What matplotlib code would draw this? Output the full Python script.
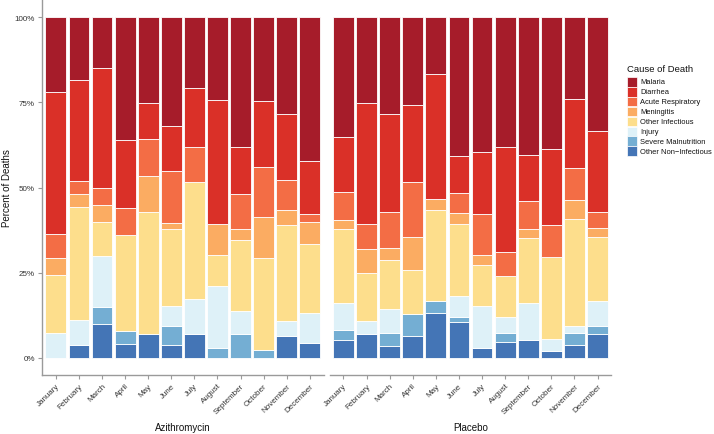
import matplotlib
matplotlib.use("Agg")
import matplotlib.pyplot as plt
from matplotlib.patches import Rectangle
import numpy as np

plt.rcParams['font.family'] = ['Liberation Sans', 'DejaVu Sans']

months = ["January", "February", "March", "April", "May", "June", "July",
          "August", "September", "October", "November", "December"]
groups = ["Azithromycin", "Placebo"]
causes = ["Malaria", "Diarrhea", "Acute Respiratory", "Meningitis",
          "Other Infectious", "Injury", "Severe Malnutrition", "Other Non\u2212Infectious"]
colors = ["#A61C2A", "#DA3028", "#F36D45", "#FBAC62", "#FDDE8C",
          "#DEF1F8", "#74AED3", "#4475B6"]

# percent of deaths per month (Azithromycin)
azi_other_noninf = [0, 3.7, 10, 4, 7.1, 3.8, 6.9, 0, 0, 0, 6.5, 4.4]
azi_malnutrition = [0, 0, 5, 4, 0, 5.7, 0, 3.0, 6.9, 2.4, 0, 0]
azi_injury       = [7.2, 7.4, 15, 0, 0, 5.7, 10.3, 18.2, 6.9, 0, 4.3, 8.9]
azi_other_inf    = [17.1, 33.3, 10, 28, 35.7, 22.6, 34.5, 9.1, 20.7, 26.8, 28.3, 20.0]
azi_meningitis   = [4.9, 3.7, 5, 0, 10.7, 1.9, 0, 9.1, 3.4, 12.2, 4.3, 6.7]
azi_acute_resp   = [7.3, 3.7, 5, 8, 10.7, 15.1, 10.3, 0, 10.3, 14.6, 8.7, 2.2]
azi_diarrhea     = [41.4, 29.6, 35, 20, 10.7, 13.2, 17.2, 36.4, 13.8, 19.5, 19.6, 15.6]
azi_malaria      = [22.1, 18.6, 15, 36, 25.1, 32.0, 20.8, 24.2, 38.0, 24.5, 28.3, 42.2]

# percent of deaths per month (Placebo)
pla_other_noninf = [5.4, 7.1, 3.6, 6.5, 13.3, 10.6, 3.0, 4.8, 5.4, 1.9, 3.7, 7.1]
pla_malnutrition = [2.7, 0, 3.6, 6.5, 3.3, 1.5, 0, 2.4, 0, 0, 3.7, 2.4]
pla_injury       = [8.1, 3.6, 7.1, 0, 0, 6.1, 12.1, 4.8, 10.8, 3.7, 1.9, 7.1]
pla_other_inf    = [21.6, 14.3, 14.3, 12.9, 26.7, 21.2, 12.1, 11.9, 18.9, 24.1, 31.5, 19.0]
pla_meningitis   = [2.7, 7.1, 3.6, 9.7, 3.3, 3.0, 3.0, 0, 2.7, 0, 5.6, 2.4]
pla_acute_resp   = [8.1, 7.1, 10.7, 16.1, 0, 6.1, 12.1, 7.1, 8.1, 9.3, 9.3, 4.8]
pla_diarrhea     = [16.2, 35.7, 28.6, 22.6, 36.7, 10.6, 18.2, 31.0, 13.5, 22.2, 20.4, 23.8]
pla_malaria      = [35.2, 25.1, 28.5, 25.7, 16.7, 40.9, 39.5, 38.0, 40.6, 38.8, 23.9, 33.4]

data = {
    "Azithromycin": [azi_other_noninf, azi_malnutrition, azi_injury, azi_other_inf,
                     azi_meningitis, azi_acute_resp, azi_diarrhea, azi_malaria],
    "Placebo": [pla_other_noninf, pla_malnutrition, pla_injury, pla_other_inf,
                pla_meningitis, pla_acute_resp, pla_diarrhea, pla_malaria],
}
stack_colors = colors[::-1]

W, H = 714, 435
fig = plt.figure(figsize=(W / 100, H / 100), dpi=100)

axes_px = [(42, 281.7), (329.6, 281.8)]
bottom_px, top_px = 376, 1
spine_col = "#9a9a9a"
txt_col = "#333333"

x = np.arange(len(months))
for gi, g in enumerate(groups):
    lx, wx = axes_px[gi]
    ax = fig.add_axes([lx / W, (H - bottom_px) / H, wx / W, (bottom_px - top_px) / H])
    bottoms = np.zeros(len(months))
    for vals, c in zip(data[g], stack_colors):
        v = np.array(vals, dtype=float)
        ax.bar(x, v, width=0.9, bottom=bottoms, color=c, edgecolor="white", linewidth=0.6)
        bottoms += v
    ax.set_xlim(-0.6, 11.6)
    ax.set_ylim(-5, 105)
    for s in ["top", "right"]:
        ax.spines[s].set_visible(False)
    ax.spines["bottom"].set_color(spine_col)
    ax.spines["bottom"].set_linewidth(1.0)
    ax.set_xticks(x)
    ax.set_xticklabels(months, rotation=45, ha="right", rotation_mode="anchor",
                       fontsize=5.8, color=txt_col)
    ax.tick_params(axis="x", length=3, color=spine_col, width=0.8, pad=2)
    if gi == 0:
        ax.spines["left"].set_color(spine_col)
        ax.spines["left"].set_linewidth(1.0)
        ax.set_yticks([0, 25, 50, 75, 100])
        ax.set_yticklabels(["0%", "25%", "50%", "75%", "100%"], fontsize=5.8, color=txt_col)
        ax.tick_params(axis="y", length=3, color=spine_col, width=0.8, pad=2)
    else:
        ax.spines["left"].set_visible(False)
        ax.set_yticks([])
    fig.text((lx + wx / 2) / W, 1 - 428 / H, g, ha="center", va="center",
             fontsize=7, color="#111111")

fig.text(7 / W, 1 - 188 / H, "Percent of Deaths", rotation=90, ha="center",
         va="center", fontsize=7, color="#111111")

# legend
fig.text(627 / W, 1 - 69 / H, "Cause of Death", ha="left", va="center",
         fontsize=6.8, color="#111111")
for i, (lab, c) in enumerate(zip(causes, colors)):
    top = 78 + 9.9 * i
    fig.patches.append(Rectangle((627 / W, 1 - (top + 9.6) / H), 10 / W, 9.6 / H,
                                 transform=fig.transFigure, facecolor=c,
                                 edgecolor="white", linewidth=0.5))
    fig.text(640 / W, 1 - (top + 5) / H, lab, ha="left", va="center",
             fontsize=5.4, color="#111111")

fig.savefig("out.png", dpi=100)
